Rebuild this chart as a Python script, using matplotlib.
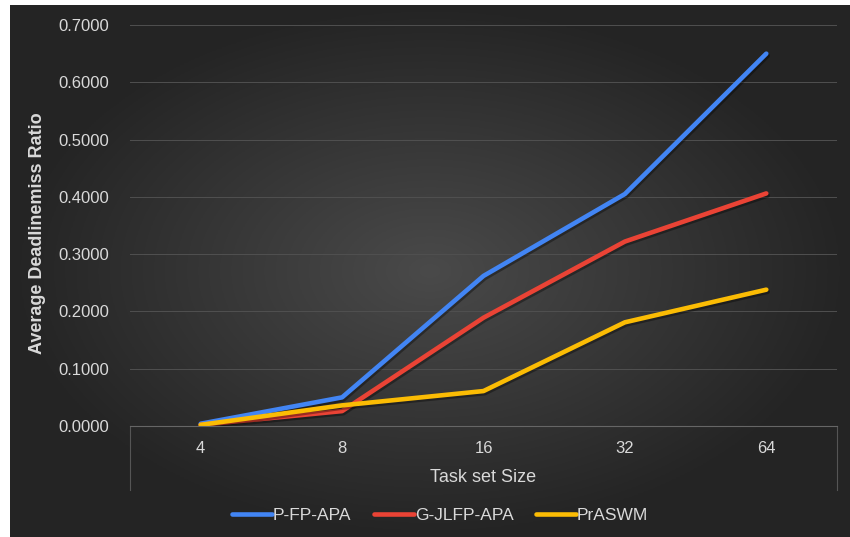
import numpy as np
import matplotlib.pyplot as plt
import matplotlib.patheffects as pe

plt.rcParams['font.family'] = ['Liberation Sans', 'DejaVu Sans']

sizes = ["4", "8", "16", "32", "64"]
p_fp_apa = [0.004, 0.050, 0.262, 0.405, 0.650]
g_jlfp_apa = [0.002, 0.026, 0.189, 0.322, 0.406]
praswm = [0.002, 0.036, 0.061, 0.181, 0.238]

series = [
    ("P-FP-APA", p_fp_apa, "#4285f4"),
    ("G-JLFP-APA", g_jlfp_apa, "#ea4335"),
    ("PrASWM", praswm, "#fbbc04"),
]
text_col = "#d9d9d9"

W, H = 850, 537
fig = plt.figure(figsize=(W / 100, H / 100), dpi=100, facecolor="white")

# dark radial backdrop of the chart panel
bg = fig.add_axes([10 / W, 0, 840 / W, 532 / H])
bg.set_axis_off()
yy, xx = np.mgrid[0:1:300j, 0:1:400j]
r = np.sqrt(((xx - 0.5) / 0.75) ** 2 + ((yy - 0.5) / 0.75) ** 2)
shade = np.clip(0.29 - 0.15 * r / r.max() * 1.4, 0.145, 0.29)
bg.imshow(np.dstack([shade, shade, shade]), aspect="auto", extent=[0, 1, 0, 1])

ax = fig.add_axes([130 / W, (H - 426) / H, 707 / W, 401 / H])
ax.patch.set_alpha(0)
x = np.arange(len(sizes))
for name, vals, col in series:
    ax.plot(x, vals, color=col, lw=3.3, label=name, solid_capstyle="round",
            solid_joinstyle="round",
            path_effects=[pe.SimpleLineShadow(offset=(1, -1.5), alpha=0.35),
                          pe.Normal()])

ax.set_xlim(-0.5, 4.5)
ax.set_ylim(0, 0.7)
ax.set_yticks(np.arange(0, 0.71, 0.1))
ax.set_yticklabels([f"{v:.4f}" for v in np.arange(0, 0.71, 0.1)])
ax.set_xticks(x)
ax.set_xticklabels(sizes)
ax.grid(axis="y", color="#505050", lw=0.7)
ax.set_axisbelow(True)
for s in ["top", "right", "left"]:
    ax.spines[s].set_visible(False)
ax.spines["bottom"].set_color("#666666")
ax.tick_params(length=0, colors=text_col, labelsize=12)
ax.tick_params(axis="y", pad=15)
ax.tick_params(axis="x", pad=11)

# category frame lines below the axis
for xe in (0, 1):
    ax.plot([xe, xe], [0, -0.16], transform=ax.transAxes, color="#555555",
            lw=0.8, clip_on=False)

ax.set_xlabel("Task set Size", color=text_col, fontsize=13, labelpad=9)
fig.text(38 / W, (H - 233) / H, "Average Deadlinemiss Ratio", rotation=90,
         ha="center", va="center", color=text_col, fontsize=13, fontweight="bold")

leg = fig.legend(loc="center", bbox_to_anchor=(440 / W, (H - 515) / H), ncol=3,
                 frameon=False, handlelength=2.3, handletextpad=0.05,
                 columnspacing=1.3, fontsize=12.5)
for t in leg.get_texts():
    t.set_color(text_col)
for h in leg.get_lines():
    h.set_linewidth(3.3)
    h.set_path_effects([])

fig.savefig("out.png", dpi=100, facecolor="white")
